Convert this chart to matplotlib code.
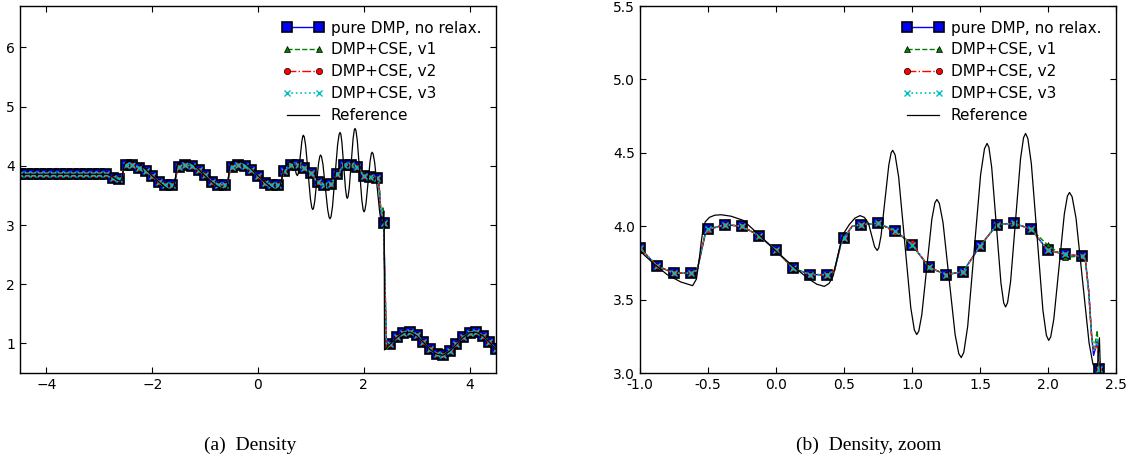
import numpy as np
import matplotlib
matplotlib.use("Agg")
import matplotlib.pyplot as plt

# ── Numerische Lösung (Dichte), Marker alle 0.125 ──────────────
x_num = [-4.5, -4.375, -4.25, -4.125, -4.0, -3.875, -3.75, -3.625, -3.5,
         -3.375, -3.25, -3.125, -3.0, -2.875, -2.75, -2.625, -2.575, -2.54,
         -2.5, -2.375, -2.25, -2.125, -2.0, -1.875, -1.75, -1.625, -1.58,
         -1.52, -1.5, -1.375, -1.25, -1.125, -1.0, -0.875, -0.75, -0.625,
         -0.58, -0.52, -0.5, -0.375, -0.25, -0.125, 0.0, 0.125, 0.25, 0.375,
         0.43, 0.475, 0.5, 0.56, 0.625, 0.75, 0.875, 1.0, 1.125, 1.25, 1.375,
         1.5, 1.625, 1.75, 1.875, 2.0, 2.125, 2.25, 2.275, 2.3, 2.32, 2.335,
         2.35, 2.362, 2.375, 2.43, 2.5, 2.625, 2.75, 2.875, 3.0, 3.125, 3.25,
         3.375, 3.5, 3.625, 3.75, 3.875, 4.0, 4.125, 4.25, 4.375, 4.5]
rho_dmp = [3.857, 3.857, 3.857, 3.857, 3.857, 3.857, 3.857, 3.857, 3.857,
           3.857, 3.857, 3.857, 3.857, 3.855, 3.79, 3.77, 3.78, 3.96,
           4.01, 4.01, 3.97, 3.91, 3.83, 3.73, 3.68, 3.68, 3.70,
           3.95, 3.98, 4.01, 4.0, 3.935, 3.85, 3.73, 3.68, 3.68,
           3.70, 3.95, 3.98, 4.01, 4.0, 3.935, 3.835, 3.715, 3.67, 3.67,
           3.70, 3.87, 3.92, 4.0, 4.01, 4.02, 3.97, 3.875, 3.72, 3.67, 3.69,
           3.865, 4.01, 4.02, 3.98, 3.835, 3.81, 3.795, 3.77, 3.55, 3.26, 3.12,
           3.17, 3.22, 3.03, 0.90, 0.99, 1.10, 1.17, 1.20, 1.14, 1.02, 0.90,
           0.82, 0.80, 0.87, 0.99, 1.10, 1.18, 1.20, 1.13, 1.03, 0.91]

# Abweichungen der CSE-Varianten (x -> rho)
v1_fix = {2.0: 3.87, 2.125: 3.79, 2.335: 3.17, 2.35: 3.22, 2.362: 3.29}
v2_fix = {-0.5: 3.975, 0.875: 3.96, 1.0: 3.885, 2.335: 3.16, 2.362: 3.20}
v3_fix = {2.335: 3.15, 2.362: 3.24}

# ── Referenzlösung ─────────────────────────────────────────────
x_ref = [-4.5, -2.85, -2.78, -2.7, -2.64, -2.6, -2.575, -2.555, -2.538, -2.52,
         -2.49, -2.45, -2.403, -2.33, -2.242, -2.134, -2.0, -1.866, -1.758,
         -1.7, -1.645, -1.61, -1.585, -1.565, -1.55, -1.538, -1.52, -1.49,
         -1.45, -1.403, -1.33, -1.242, -1.134, -1.0, -0.9, -0.8, -0.7, -0.613,
         -0.585, -0.565, -0.55, -0.538, -0.52, -0.49, -0.45, -0.403, -0.33,
         -0.242, -0.134, 0.0, 0.134, 0.242, 0.3, 0.355, 0.39, 0.42, 0.44,
         0.457, 0.477, 0.497, 0.538, 0.58, 0.618, 0.65, 0.68, 0.705, 0.725,
         0.744, 0.7554, 0.7725, 0.801, 0.8295, 0.8466, 0.858, 0.8757, 0.902,
         0.9465, 0.991, 1.0173, 1.035, 1.0498, 1.072, 1.109, 1.146, 1.1682,
         1.183, 1.2009, 1.228, 1.2725, 1.317, 1.3441, 1.362, 1.381, 1.4095,
         1.457, 1.5045, 1.533, 1.552, 1.5656, 1.586, 1.62, 1.654, 1.6744,
         1.688, 1.7027, 1.725, 1.7615, 1.798, 1.8203, 1.835, 1.852, 1.8775,
         1.92, 1.9625, 1.988, 2.005, 2.0203, 2.043, 2.0815, 2.12, 2.1427,
         2.158, 2.1772, 2.206, 2.254, 2.302, 2.3308, 2.35, 2.365, 2.378,
         2.386, 2.392, 2.5, 2.625, 2.75, 2.875, 3.0, 3.125, 3.25, 3.375, 3.5,
         3.625, 3.75, 3.875, 4.0, 4.125, 4.25, 4.375, 4.5]
rho_ref = [3.857, 3.857, 3.83, 3.78, 3.75, 3.74, 3.78, 3.88, 3.97, 4.03,
           4.06, 4.075, 4.078, 4.068, 4.04, 3.95, 3.83, 3.72, 3.64,
           3.605, 3.59, 3.61, 3.66, 3.77, 3.89, 3.97, 4.03, 4.06,
           4.075, 4.078, 4.068, 4.04, 3.95, 3.83, 3.745, 3.67, 3.62, 3.595,
           3.64, 3.77, 3.89, 3.97, 4.03, 4.06, 4.075, 4.078, 4.068,
           4.04, 3.95, 3.83, 3.72, 3.64, 3.605, 3.59, 3.61, 3.66, 3.74,
           3.81, 3.89, 3.95, 4.01, 4.055, 4.072, 4.06, 4.02, 3.93, 3.86,
           3.835, 3.852, 3.935, 4.176, 4.417, 4.50, 4.517, 4.486, 4.334,
           3.89, 3.445, 3.293, 3.262, 3.285, 3.396, 3.722, 4.048, 4.159,
           4.182, 4.156, 4.025, 3.644, 3.262, 3.131, 3.105, 3.141, 3.318,
           3.835, 4.351, 4.528, 4.564, 4.537, 4.401, 4.007, 3.613, 3.477,
           3.45, 3.479, 3.623, 4.041, 4.459, 4.603, 4.632, 4.597, 4.426,
           3.927, 3.428, 3.257, 3.222, 3.247, 3.369, 3.726, 4.083, 4.205,
           4.23, 4.201, 4.055, 3.63, 3.205, 3.059, 3.03, 3.06, 3.24,
           3.0, 0.89, 0.99, 1.10, 1.18, 1.19, 1.13, 1.02, 0.90, 0.82, 0.80,
           0.87, 0.98, 1.10, 1.18, 1.19, 1.13, 1.02, 0.90]

labels = ["pure DMP, no relax.", "DMP+CSE, v1", "DMP+CSE, v2",
          "DMP+CSE, v3", "Reference"]
captions = ["(a)  Density", "(b)  Density, zoom"]

# ══════════════════════════════════════════════════════════
# PLOT
# ══════════════════════════════════════════════════════════

plt.rcParams["font.family"] = "DejaVu Sans"
plt.rcParams["font.size"] = 10
plt.rcParams["xtick.direction"] = "in"
plt.rcParams["ytick.direction"] = "in"
plt.rcParams["xtick.top"] = True
plt.rcParams["ytick.right"] = True
plt.rcParams["xtick.major.size"] = 4
plt.rcParams["ytick.major.size"] = 4
plt.rcParams["axes.linewidth"] = 1.0

x_num = np.array(x_num)
rho_v1 = [v1_fix.get(x, r) for x, r in zip(x_num, rho_dmp)]
rho_v2 = [v2_fix.get(x, r) for x, r in zip(x_num, rho_dmp)]
rho_v3 = [v3_fix.get(x, r) for x, r in zip(x_num, rho_dmp)]

# Marker nur auf dem 0.125-Raster
mk = [i for i, x in enumerate(x_num) if abs(x * 8 - round(x * 8)) < 1e-9]

fig = plt.figure(figsize=(11.32, 4.62), dpi=100)
ax1 = fig.add_axes([20 / 1132, 89 / 462, 476 / 1132, 367 / 462])
ax2 = fig.add_axes([640 / 1132, 89 / 462, 476 / 1132, 367 / 462])


def zeichnen(ax):
    ax.plot(x_num, rho_dmp, "b-", marker="s", markevery=mk, ms=7,
            mec="k", mew=1.2, lw=1.0, label=labels[0])
    ax.plot(x_num, rho_v1, color="g", ls="--", marker="^", markevery=mk,
            ms=5, mec="k", mew=0.5, lw=1.0, label=labels[1])
    ax.plot(x_num, rho_v2, color="r", ls="-.", marker="o", markevery=mk,
            ms=4.5, mec="k", mew=0.5, lw=1.0, label=labels[2])
    ax.plot(x_num, rho_v3, color="c", ls=":", marker="x", markevery=mk,
            ms=4, mew=1.0, lw=1.2, label=labels[3])
    ax.plot(x_ref, rho_ref, "k-", lw=0.9, label=labels[4])
    ax.legend(loc="upper right", frameon=False, numpoints=2,
              fontsize=11, handlelength=2.7, handletextpad=0.5,
              labelspacing=0.45, borderaxespad=0.55)


zeichnen(ax1)
ax1.set_xlim(-4.5, 4.5)
ax1.set_ylim(0.5, 6.7)
ax1.set_xticks([-4, -2, 0, 2, 4])
ax1.set_yticks([1, 2, 3, 4, 5, 6])

zeichnen(ax2)
ax2.set_xlim(-1.0, 2.5)
ax2.set_ylim(3.0, 5.5)
ax2.set_xticks(np.arange(-1.0, 2.51, 0.5))
ax2.set_yticks(np.arange(3.0, 5.51, 0.5))
ax2.xaxis.set_major_formatter(plt.FormatStrFormatter("%.1f"))
ax2.yaxis.set_major_formatter(plt.FormatStrFormatter("%.1f"))

fig.text(250 / 1132, 12 / 462, captions[0], ha="center", va="baseline",
         family="Liberation Serif", fontsize=14)
fig.text(869 / 1132, 12 / 462, captions[1], ha="center", va="baseline",
         family="Liberation Serif", fontsize=14)

fig.savefig("out.png", dpi=100)
